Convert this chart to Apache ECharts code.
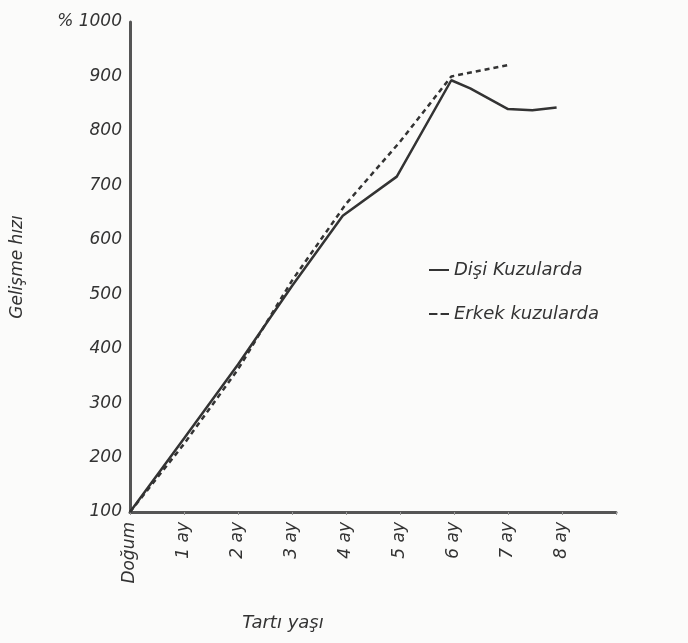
<!DOCTYPE html>
<html>
<head>
<meta charset="utf-8">
<script src="https://cdn.jsdelivr.net/npm/echarts@6/dist/echarts.min.js"></script>
<style>
  html, body { margin: 0; padding: 0; background: #fff; }
  #chart { width: 688px; height: 643px; }
</style>
</head>
<body>
<div id="chart"></div>
<script>
// veriler (aylar / gelişme hızı %)
var disiAy = [0, 1, 2, 3, 3.94, 4.94, 5.95, 6.3, 7, 7.45, 7.9];
var disiDeger = [100, 235, 371, 515, 644, 716, 893, 878, 840, 838, 843];
var erkekAy = [0, 1, 2, 3, 4, 5, 5.95, 7];
var erkekDeger = [100, 225, 362, 525, 666, 780, 900, 921];
var ayEtiketleri = ['Doğum', '1 ay', '2 ay', '3 ay', '4 ay', '5 ay', '6 ay', '7 ay', '8 ay'];

var yaziFont = '"DejaVu Sans", sans-serif';
var renk = '#333';

function pairs(xs, ys) {
  return xs.map(function (x, i) { return [x, ys[i]]; });
}

var myChart = echarts.init(document.getElementById('chart'));

var option = {
  backgroundColor: '#fbfbfa',
  animation: false,
  grid: { left: 130, right: 72, top: 22, bottom: 131 },
  legend: {
    orient: 'vertical',
    left: 424,
    top: 256,
    itemWidth: 20,
    itemHeight: 3,
    itemGap: 26,
    textStyle: { fontFamily: yaziFont, fontStyle: 'italic', fontSize: 18, color: renk },
    data: [
      { name: 'Dişi Kuzularda', icon: 'path://M0,0H20V2H0Z' },
      { name: 'Erkek kuzularda', icon: 'path://M0,0H8V2H0Z M11,0H19V2H11Z' }
    ]
  },
  xAxis: {
    type: 'value',
    min: 0,
    max: 9,
    interval: 1,
    name: 'Tartı yaşı',
    nameLocation: 'middle',
    nameGap: 102,
    nameTextStyle: { fontFamily: yaziFont, fontStyle: 'italic', fontSize: 18, color: renk, padding: [0, 180, 0, 0] },
    splitLine: { show: false },
    axisLine: { lineStyle: { color: '#555', width: 3 } },
    axisTick: { length: 3, lineStyle: { color: '#999' } },
    axisLabel: {
      rotate: 90,
      margin: 10,
      fontFamily: yaziFont,
      fontStyle: 'italic',
      fontSize: 17,
      color: renk,
      formatter: function (v) { return ayEtiketleri[v] || ''; }
    }
  },
  yAxis: {
    type: 'value',
    min: 100,
    max: 1000,
    interval: 100,
    name: 'Gelişme hızı',
    nameLocation: 'middle',
    nameGap: 104,
    nameTextStyle: { fontFamily: yaziFont, fontStyle: 'italic', fontSize: 17, color: renk },
    splitLine: { show: false },
    axisLine: { show: true, lineStyle: { color: '#555', width: 3 } },
    axisTick: { show: false },
    axisLabel: {
      margin: 8,
      fontFamily: yaziFont,
      fontStyle: 'italic',
      fontSize: 17,
      color: renk,
      formatter: function (v) { return v === 1000 ? '% 1000' : v; }
    }
  },
  series: [
    {
      name: 'Dişi Kuzularda',
      type: 'line',
      symbol: 'none',
      data: pairs(disiAy, disiDeger),
      lineStyle: { color: renk, width: 2.5 },
      itemStyle: { color: renk }
    },
    {
      name: 'Erkek kuzularda',
      type: 'line',
      symbol: 'none',
      data: pairs(erkekAy, erkekDeger),
      lineStyle: { color: renk, width: 2.5, type: [5, 4] },
      itemStyle: { color: renk }
    }
  ]
};

myChart.setOption(option);
</script>
</body>
</html>
